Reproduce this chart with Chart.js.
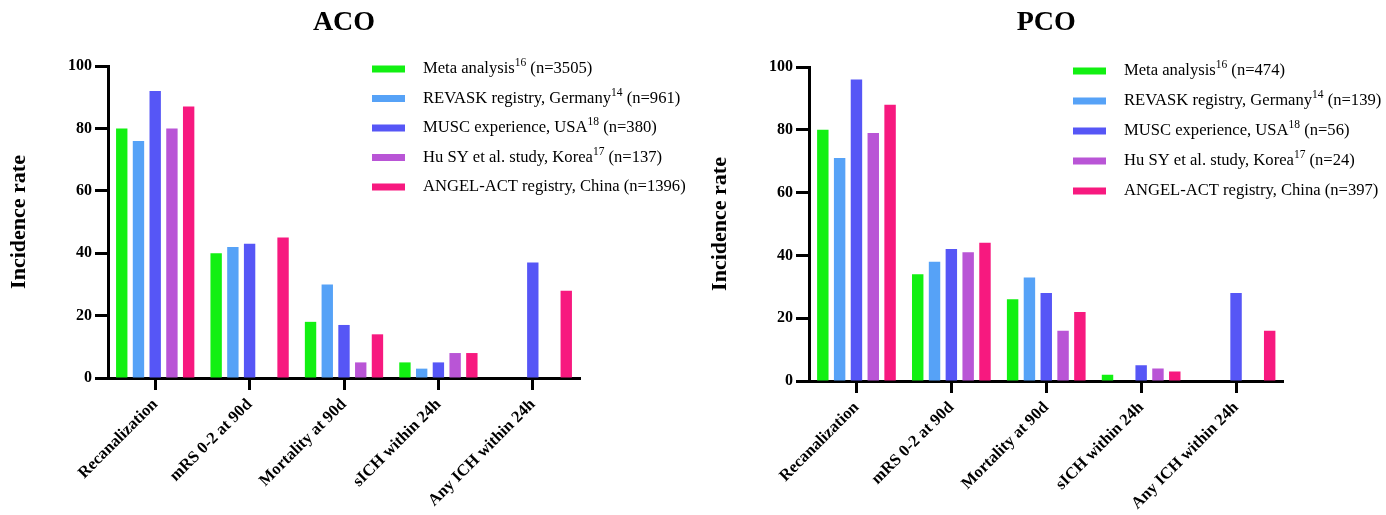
<!DOCTYPE html>
<html>
<head>
<meta charset="utf-8">
<script src="https://cdn.jsdelivr.net/npm/chart.js@4"></script>
<style>
html,body{margin:0;padding:0;background:#fff;}
#wrapA{position:absolute;left:0;top:0;width:693px;height:515px;}
#wrapB{position:absolute;left:701px;top:0;width:685px;height:515px;}
</style>
</head>
<body>
<div id="wrapA"><canvas id="aco"></canvas></div>
<div id="wrapB"><canvas id="pco"></canvas></div>
<script>
// ---- data ----
const categories = ['Recanalization', 'mRS 0-2 at 90d', 'Mortality at 90d', 'sICH within 24h', 'Any ICH within 24h'];
const seriesNames = ['Meta analysis', 'REVASK registry, Germany', 'MUSC experience, USA', 'Hu SY et al. study, Korea', 'ANGEL-ACT registry, China'];
const seriesRefs = ['16', '14', '18', '17', ''];
const seriesColors = ['#12F012', '#56A2F7', '#5656F6', '#B955D6', '#F7197F'];
const yTicks = [0, 20, 40, 60, 80, 100];

const acoN = ['3505', '961', '380', '137', '1396'];
const acoMeta   = [80, 40, 18, 5, null];
const acoRevask = [76, 42, 30, 3, null];
const acoMusc   = [92, 43, 17, 5, 37];
const acoHu     = [80, null, 5, 8, null];
const acoAngel  = [87, 45, 14, 8, 28];

const pcoN = ['474', '139', '56', '24', '397'];
const pcoMeta   = [80, 34, 26, 2, null];
const pcoRevask = [71, 38, 33, null, null];
const pcoMusc   = [96, 42, 28, 5, 28];
const pcoHu     = [79, 41, 16, 4, null];
const pcoAngel  = [88, 44, 22, 3, 16];

const SERIF = '"Liberation Serif", "Times New Roman", serif';

const refLegend = {
  id: 'refLegend',
  afterDraw(chart, args, opts) {
    const ctx = chart.ctx;
    ctx.save();
    ctx.textBaseline = 'middle';
    ctx.textAlign = 'left';
    chart.data.datasets.forEach((ds, i) => {
      const y = opts.y0 + i * opts.step;
      ctx.fillStyle = ds.backgroundColor;
      ctx.fillRect(opts.x0, y - 3.5, 33, 7);
      ctx.fillStyle = '#000';
      let x = opts.tx;
      ctx.font = '16.6px ' + SERIF;
      ctx.fillText(seriesNames[i], x, y);
      x += ctx.measureText(seriesNames[i]).width;
      if (seriesRefs[i]) {
        ctx.font = '11.5px ' + SERIF;
        ctx.fillText(seriesRefs[i], x, y - 6);
        x += ctx.measureText(seriesRefs[i]).width;
        ctx.font = '16.6px ' + SERIF;
      }
      ctx.fillText(' (n=' + opts.ns[i] + ')', x, y);
    });
    ctx.restore();
  }
};

function makeChart(id, title, series, ns, cfg) {
  const datasets = series.map((vals, i) => ({
    label: seriesNames[i],
    data: vals,
    backgroundColor: seriesColors[i],
    borderWidth: 0,
    barPercentage: 0.68,
    categoryPercentage: 0.886
  }));
  return new Chart(document.getElementById(id), {
    type: 'bar',
    data: { labels: categories, datasets },
    plugins: [refLegend],
    options: {
      responsive: true,
      maintainAspectRatio: false,
      animation: false,
      layout: { padding: { left: 0, right: cfg.rightPad, top: 0, bottom: 0 } },
      plugins: {
        legend: { display: false },
        tooltip: { enabled: false },
        title: {
          display: true,
          text: title,
          fullSize: false,
          color: '#000',
          font: { family: SERIF, size: 28, weight: 'bold', lineHeight: 1.2 },
          padding: { top: 6, bottom: cfg.titleBottom }
        },
        refLegend: { x0: 372, tx: 423, y0: cfg.legY, step: cfg.legStep, ns }
      },
      scales: {
        x: {
          afterFit(s) { s.height = cfg.xHeight; },
          grid: { display: true, offset: false, drawOnChartArea: false, drawTicks: true, tickLength: 12, tickWidth: 3, tickColor: '#000' },
          border: { display: true, color: '#000', width: 3 },
          ticks: {
            autoSkip: false, maxRotation: 45, minRotation: 45, padding: 5,
            color: '#000', font: { family: SERIF, size: 16.5, weight: 'bold' }
          }
        },
        y: {
          min: 0, max: 100,
          afterFit(s) { s.width = 108; },
          afterBuildTicks(s) { s.ticks = yTicks.map(v => ({ value: v })); },
          grid: { display: true, drawOnChartArea: false, drawTicks: true, tickLength: 13, tickWidth: 3, tickColor: '#000' },
          border: { display: true, color: '#000', width: 3 },
          ticks: { padding: 3, color: '#000', font: { family: SERIF, size: 16, weight: 'bold' } },
          title: {
            display: true, text: 'Incidence rate', color: '#000',
            font: { family: SERIF, size: 22, weight: 'bold', lineHeight: 1.2 },
            padding: { top: 6, bottom: 0 }
          }
        }
      }
    }
  });
}

makeChart('aco', 'ACO', [acoMeta, acoRevask, acoMusc, acoHu, acoAngel], acoN,
  { rightPad: 113, titleBottom: 26.4, xHeight: 137, legY: 69, legStep: 29.5 });
makeChart('pco', 'PCO', [pcoMeta, pcoRevask, pcoMusc, pcoHu, pcoAngel], pcoN,
  { rightPad: 102.5, titleBottom: 27.4, xHeight: 134, legY: 71, legStep: 30 });
</script>
</body>
</html>
